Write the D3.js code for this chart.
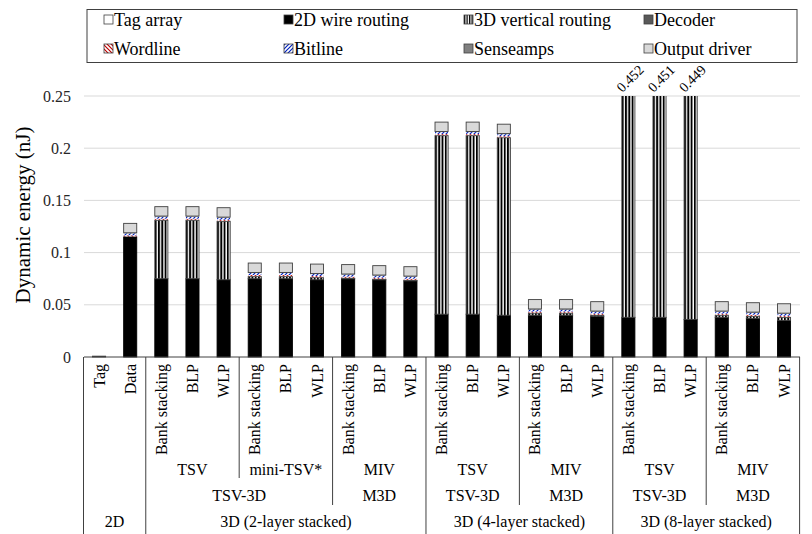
<!DOCTYPE html>
<html><head><meta charset="utf-8">
<script src="https://cdn.jsdelivr.net/npm/d3@7"></script>
<style>body{margin:0;background:#fff}text{font-family:"Liberation Serif","Times New Roman",serif}</style>
</head><body><svg id="c" width="812" height="534" font-family="Liberation Serif"></svg>
<script>
const categories = ["Tag","Data","Bank stacking","BLP","WLP","Bank stacking","BLP","WLP","Bank stacking","BLP","WLP","Bank stacking","BLP","WLP","Bank stacking","BLP","WLP","Bank stacking","BLP","WLP","Bank stacking","BLP","WLP"];
const seriesNames = ["Tag array","2D wire routing","3D vertical routing","Decoder","Wordline","Bitline","Senseamps","Output driver"];
const tagArray   = [0.0008,0,0,0,0,0,0,0,0,0,0,0,0,0,0,0,0,0,0,0,0,0,0];
const wire2D     = [0,0.115,0.075,0.075,0.074,0.075,0.075,0.074,0.075,0.074,0.073,0.041,0.041,0.040,0.040,0.040,0.039,0.038,0.038,0.036,0.038,0.037,0.035];
const vertical3D = [0,0,0.056,0.056,0.056,0.002,0.002,0.002,0.0005,0.0005,0.0005,0.171,0.171,0.170,0.002,0.002,0.001,0.401,0.400,0.400,0.002,0.002,0.003];
const decoder    = [0,0.0005,0.0005,0.0005,0.0005,0.0005,0.0005,0.0005,0.0005,0.0005,0.0005,0.0005,0.0005,0.0005,0.0005,0.0005,0.0005,0.0005,0.0005,0.0005,0.0005,0.0005,0.0005];
const wordline   = [0,0.001,0.001,0.001,0.001,0.001,0.001,0.001,0.001,0.001,0.001,0.001,0.001,0.001,0.001,0.001,0.001,0.001,0.001,0.001,0.001,0.001,0.001];
const bitline    = [0,0.002,0.002,0.002,0.002,0.002,0.002,0.002,0.002,0.002,0.002,0.002,0.002,0.002,0.002,0.002,0.002,0.002,0.002,0.002,0.002,0.002,0.002];
const senseamps  = [0,0.0005,0.0005,0.0005,0.0005,0.0005,0.0005,0.0005,0.0005,0.0005,0.0005,0.0005,0.0005,0.0005,0.0005,0.0005,0.0005,0.0005,0.0005,0.0005,0.0005,0.0005,0.0005];
const outputDrv  = [0,0.009,0.009,0.009,0.009,0.009,0.009,0.009,0.009,0.009,0.009,0.009,0.009,0.009,0.009,0.009,0.009,0.009,0.009,0.009,0.009,0.009,0.009];
const overflowLabels = [{i:17,t:"0.452"},{i:18,t:"0.451"},{i:19,t:"0.449"}];
const yTicks = [0,0.05,0.1,0.15,0.2,0.25];
const level2 = [{s:2,e:4,t:"TSV"},{s:5,e:7,t:"mini-TSV*"},{s:8,e:10,t:"MIV"},{s:11,e:13,t:"TSV"},{s:14,e:16,t:"MIV"},{s:17,e:19,t:"TSV"},{s:20,e:22,t:"MIV"}];
const level3 = [{s:2,e:7,t:"TSV-3D"},{s:8,e:10,t:"M3D"},{s:11,e:13,t:"TSV-3D"},{s:14,e:16,t:"M3D"},{s:17,e:19,t:"TSV-3D"},{s:20,e:22,t:"M3D"}];
const level4 = [{s:0,e:1,t:"2D"},{s:2,e:10,t:"3D (2-layer stacked)"},{s:11,e:16,t:"3D (4-layer stacked)"},{s:17,e:22,t:"3D (8-layer stacked)"}];

const FONT = "Liberation Serif";
const seriesData = [tagArray,wire2D,vertical3D,decoder,wordline,bitline,senseamps,outputDrv];
const svg = d3.select("#c");
const defs = svg.append("defs");
const pv = defs.append("pattern").attr("id","pVert").attr("patternUnits","objectBoundingBox").attr("width",0.25).attr("height",1);
pv.append("rect").attr("width",20).attr("height",2000).attr("fill","#fff");
pv.append("rect").attr("width",1.9).attr("height",2000).attr("fill","#000");
const pw = defs.append("pattern").attr("id","pWord").attr("patternUnits","userSpaceOnUse").attr("width",4).attr("height",4);
pw.append("rect").attr("width",4).attr("height",4).attr("fill","#fff");
pw.append("path").attr("d","M0,0L4,4M-1,3L1,5M3,-1L5,1").attr("stroke","#c00000").attr("stroke-width",1.2);
const pb = defs.append("pattern").attr("id","pBit").attr("patternUnits","userSpaceOnUse").attr("width",4).attr("height",4);
pb.append("rect").attr("width",4).attr("height",4).attr("fill","#fff");
pb.append("path").attr("d","M0,4L4,0M-1,1L1,-1M3,5L5,3").attr("stroke","#0020c0").attr("stroke-width",1.2);
const pvl = defs.append("pattern").attr("id","pVertL").attr("patternUnits","userSpaceOnUse").attr("width",2.5).attr("height",10);
pvl.append("rect").attr("width",2.5).attr("height",10).attr("fill","#fff");
pvl.append("rect").attr("width",1.3).attr("height",10).attr("fill","#000");
const fills = ["#ffffff","#000000","url(#pVert)","#595959","url(#pWord)","url(#pBit)","#808080","#d9d9d9"];
const legendFills = ["#ffffff","#000000","url(#pVertL)","#595959","url(#pWord)","url(#pBit)","#808080","#d9d9d9"];

const x = d3.scaleBand().domain(d3.range(categories.length)).range([83.5,799.6]).paddingInner(0.58).paddingOuter(0.29);
const y = d3.scaleLinear().domain([0,0.25]).range([357,96]);
const step = x.step();
const x0 = 84, x1 = 800;
const edge = i => x(i) - (step - x.bandwidth())/2;
const rightEdge = i => x(i)+x.bandwidth()+(step-x.bandwidth())/2;

svg.append("g").selectAll("line").data(yTicks.slice(1)).join("line")
  .attr("x1",x0).attr("x2",x1).attr("y1",d=>y(d)).attr("y2",d=>y(d))
  .attr("stroke","#d9d9d9").attr("stroke-width",1);

const yAxis = d3.axisLeft(y).tickValues(yTicks).tickFormat(d=>d===0?"0":String(+d.toFixed(2))).tickSize(0).tickPadding(0);
const ya = svg.append("g").attr("transform","translate(71,0)").call(yAxis).attr("font-family",FONT);
ya.select(".domain").remove();
ya.selectAll("text").attr("font-size",16).attr("font-family",FONT).attr("fill","#262626");

svg.append("text").attr("transform","translate(23,215) rotate(-90)").attr("text-anchor","middle")
  .attr("dominant-baseline","central").attr("font-size",21).attr("font-family",FONT).attr("fill","#000").text("Dynamic energy (nJ)");

const rows = categories.map((c,i)=>{const o={i}; seriesNames.forEach((s,k)=>o[s]=seriesData[k][i]); return o;});
const stack = d3.stack().keys(seriesNames)(rows);
svg.append("clipPath").attr("id","clip").append("rect").attr("x",0).attr("y",y(0.25)).attr("width",812).attr("height",y(0)-y(0.25)+2);
const bars = svg.append("g").attr("clip-path","url(#clip)");
stack.forEach((layer,k)=>{
  bars.append("g").selectAll("rect").data(layer.filter(d=>d[1]-d[0]>0)).join("rect")
    .attr("x",d=>x(d.data.i)).attr("width",x.bandwidth())
    .attr("y",d=>y(d[1])).attr("height",d=>Math.max(0.6,y(d[0])-y(d[1])))
    .attr("fill",fills[k]).attr("stroke",k===1?"#000":"#404040").attr("stroke-width",k>=3&&k<=6?0:0.9);
});

svg.append("g").selectAll("text").data(overflowLabels).join("text")
  .attr("transform",d=>`translate(${x(d.i)+x.bandwidth()/2-6},${y(0.25)-3}) rotate(-45)`)
  .attr("font-size",14).attr("font-family",FONT).attr("fill","#000").text(d=>d.t);

svg.append("line").attr("x1",x0).attr("x2",x1).attr("y1",y(0)).attr("y2",y(0)).attr("stroke","#404040").attr("stroke-width",1);

svg.append("g").selectAll("text").data(categories).join("text")
  .attr("transform",(d,i)=>`translate(${x(i)+x.bandwidth()/2},364) rotate(-90)`)
  .attr("text-anchor","end").attr("dominant-baseline","central").attr("font-size",16).attr("font-family",FONT).attr("fill","#000").text(d=>d);

const tbl = svg.append("g");
const vline = (xx,yb)=>tbl.append("line").attr("x1",xx).attr("x2",xx).attr("y1",y(0)).attr("y2",yb).attr("stroke","#404040").attr("stroke-width",1);
vline(edge(0),534); vline(rightEdge(22),534);
level4.forEach(g=>{ if(g.s>0) vline(edge(g.s),534); });
level3.forEach(g=>{ if(!level4.some(h=>h.s===g.s)) vline(edge(g.s),505); });
level2.forEach(g=>{ if(!level3.some(h=>h.s===g.s)) vline(edge(g.s),478); });
const mid = g => (edge(g.s)+rightEdge(g.e))/2;
const lab = (arr,yy)=>tbl.append("g").selectAll("text").data(arr).join("text")
  .attr("x",mid).attr("y",yy).attr("text-anchor","middle").attr("dominant-baseline","central")
  .attr("font-size",16).attr("font-family",FONT).attr("fill","#000").text(d=>d.t);
lab(level2,469); lab(level3,495); lab(level4,521);

svg.append("rect").attr("x",87).attr("y",9.5).attr("width",710).attr("height",53).attr("fill","#fff").attr("stroke","#404040").attr("stroke-width",1);
const lg = svg.append("g").selectAll("g").data(seriesNames).join("g")
  .attr("transform",(d,k)=>`translate(${104+(k%4)*180},${(k<4?20:49)})`);
lg.append("rect").attr("x",0).attr("y",-5).attr("width",9).attr("height",9).attr("fill",(d,k)=>legendFills[k]).attr("stroke","#404040").attr("stroke-width",0.8);
lg.append("text").attr("x",10).attr("y",0).attr("dominant-baseline","central").attr("font-size",18).attr("font-family",FONT).attr("fill","#000").text(d=>d);
</script></body></html>
